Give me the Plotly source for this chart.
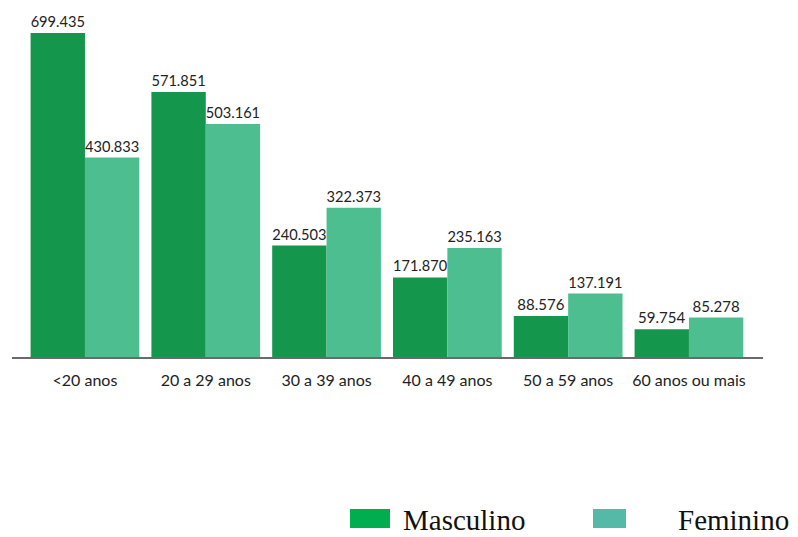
import plotly.graph_objects as go

categories = ["<20 anos", "20 a 29 anos", "30 a 39 anos", "40 a 49 anos", "50 a 59 anos", "60 anos ou mais"]
masculino = [699435, 571851, 240503, 171870, 88576, 59754]
feminino = [430833, 503161, 322373, 235163, 137191, 85278]
series_names = ["Masculino", "Feminino"]

def fmt(v):
    return f"{v:,}".replace(",", ".")

W, H = 798, 537
L, R, T, B = 12, 35, 10, 180
pw, ph = W - L - R, H - T - B

def px(x):
    return (x - L) / pw

def py(y):
    return (H - B - y) / ph

lab_font = dict(family="Lato, Carlito, sans-serif", size=15, color="#222")

fig = go.Figure()
fig.add_trace(go.Bar(x=categories, y=masculino, name=series_names[0],
                     marker_color="#14964c", marker_line_width=0,
                     text=[fmt(v) for v in masculino], textposition="outside",
                     cliponaxis=False, textfont=lab_font))
fig.add_trace(go.Bar(x=categories, y=feminino, name=series_names[1],
                     marker_color="#4dbe8f", marker_line_width=0,
                     text=[fmt(v) for v in feminino], textposition="outside",
                     cliponaxis=False, textfont=lab_font))

fig.update_layout(
    width=W, height=H,
    margin=dict(l=L, r=R, t=T, b=B),
    paper_bgcolor="white", plot_bgcolor="white",
    barmode="group", bargap=0.1, bargroupgap=0,
    showlegend=False,
    uniformtext=dict(mode=False),
    xaxis=dict(range=[-0.604, 5.613], showgrid=False, showline=True,
               linecolor="#6a6a6a", linewidth=1.5, ticks="",
               ticklabelstandoff=8,
               tickfont=dict(family="Lato, Carlito, sans-serif", size=16, color="#222")),
    yaxis=dict(range=[0, 749100], visible=False, showgrid=False),
)

# custom legend
leg = [(350, 390, "#00ae4f", 402), (593, 626, "#55b9a8", 677)]
for (x0, x1, col, tx), name in zip(leg, series_names):
    fig.add_shape(type="rect", xref="paper", yref="paper",
                  x0=px(x0), x1=px(x1), y0=py(528), y1=py(509),
                  fillcolor=col, line_width=0)
    fig.add_annotation(xref="paper", yref="paper", x=px(tx), y=py(520),
                       xanchor="left", yanchor="middle", showarrow=False,
                       text=name, borderpad=0,
                       font=dict(family="Liberation Serif, Times New Roman, serif", size=29, color="#111"))

fig.write_html("out.html")
